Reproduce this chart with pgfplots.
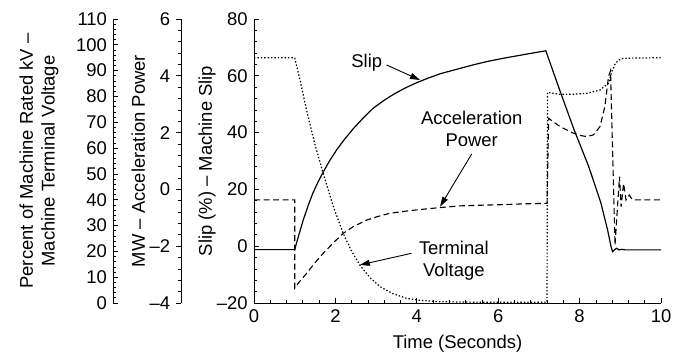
\documentclass[border=0pt]{standalone}
\usepackage{fontspec}
\setmainfont{Liberation Sans}
\usepackage{pgfplots}
\usepackage{pgfplotstable}
\pgfplotsset{compat=1.18}
\usetikzlibrary{arrows.meta}

\pgfplotstableread{
t s
0 -1.2
1.0 -1.2
1.1 3.9
1.21 9.2
1.33 14.3
1.45 18.8
1.58 22.8
1.70 26.1
1.85 29.9
2.03 33.9
2.2 37.2
2.44 41.4
2.7 45.4
2.93 48.6
3.2 51.4
3.42 53.4
3.7 55.6
4.0 57.6
4.3 59.3
4.57 60.7
5.06 62.6
5.4 63.9
5.72 65.0
6.1 66.1
6.45 67.0
6.8 67.9
7.17 68.8
7.52 54.6
7.87 40.8
8.22 28.2
8.52 15.4
8.69 5.6
8.77 0.0
8.81 -1.9
8.86 -1.2
8.91 -0.75
8.97 -1.3
9.04 -1.1
9.12 -1.3
10 -1.3
}\slipdata

\pgfplotstableread{
t p
0 -0.37
1.0 -0.37
1.0 -3.48
1.1 -3.28
1.29 -2.96
1.5 -2.58
1.70 -2.25
1.95 -1.88
2.19 -1.55
2.45 -1.30
2.77 -1.08
3.05 -0.95
3.34 -0.84
3.7 -0.77
4.0 -0.72
4.57 -0.64
5.06 -0.58
5.5 -0.56
6.04 -0.54
6.6 -0.51
7.2 -0.49
7.24 2.50
7.52 2.21
7.85 1.98
8.05 1.89
8.18 1.86
8.34 1.92
8.5 2.21
8.62 2.91
8.71 3.97
8.76 4.18
8.87 -1.96
8.98 0.45
9.02 -0.61
9.08 0.21
9.14 -0.37
9.22 -0.20
9.3 -0.37
10 -0.37
}\accdata

\pgfplotstableread{
t v
0 95.0
1.0 95.0
1.13 86.4
1.29 74.8
1.49 61.9
1.70 50.2
1.95 37.3
2.19 27.0
2.4 20.0
2.60 14.7
2.85 9.8
3.10 6.3
3.4 3.7
3.75 1.8
4.1 1.0
4.57 0.5
5.5 0.3
7.2 0.3
7.21 81.6
7.52 80.8
7.9 80.9
8.18 81.2
8.5 82.5
8.71 85.1
8.79 89.6
8.87 92.5
8.95 94.0
9.07 94.8
10 95.0
}\voltdata

\pgfplotsset{
  base/.style={
    scale only axis, width=407bp, height=284bp,
    xmin=0, xmax=10, anchor=south west,
    axis line style={-, line width=0.8bp},
    major tick length=5bp, minor tick length=3bp,
    tick style={black, line width=0.7bp},
  }
}

\begin{document}
\fontsize{18.5}{22}\selectfont
\begin{tikzpicture}
\path[use as bounding box] (-254bp,-51bp) rectangle (427bp,303bp);

% percent axis (drawn only)
\begin{axis}[base, at={(-140.7bp,0)}, ymin=0, ymax=110,
  hide x axis, axis y line*=left, tick align=inside,
  ytick={0,10,...,110}, minor y tick num=4,
  yticklabels={0,10,20,30,40,50,60,70,80,90,100,110},
  ylabel={Percent of Machine Rated kV –\\Machine Terminal Voltage},
  ylabel style={at={(axis description cs:-0.1826,0.5)}, anchor=center, align=center}]
\end{axis}

% MW axis (drawn only)
\begin{axis}[base, at={(-72.5bp,0)}, ymin=-4, ymax=6,
  hide x axis, axis y line*=left, tick align=outside,
  ytick={-4,-2,0,2,4,6}, minor y tick num=4,
  yticklabels={–4,–2,0,2,4,6},
  ylabel={MW – Acceleration Power},
  ylabel style={at={(axis description cs:-0.1061,0.5)}, anchor=center}]
\end{axis}

% terminal voltage plot
\begin{axis}[base, at={(0,0)}, ymin=0, ymax=110, hide axis]
\addplot[black, line width=1.2bp, dash pattern=on 1.4bp off 2bp] table[x=t,y=v] {\voltdata};
\end{axis}

% acceleration power plot
\begin{axis}[base, at={(0,0)}, ymin=-4, ymax=6, hide axis]
\addplot[black, line width=1.1bp, dash pattern=on 6bp off 3.5bp] table[x=t,y=p] {\accdata};
\end{axis}

% main slip axis
\begin{axis}[base, at={(0,0)}, ymin=-20, ymax=80,
  axis x line*=bottom, axis y line*=left, tick align=inside,
  xtick={0,2,4,6,8,10}, xticklabels={0,2,4,6,8,10}, minor x tick num=4,
  ytick={-20,0,20,40,60,80}, yticklabels={–20,0,20,40,60,80}, minor y tick num=4,
  xlabel={Time (Seconds)},
  xlabel style={at={(axis description cs:0.5,-0.1444)}, anchor=center},
  ylabel={Slip (\%) – Machine Slip},
  ylabel style={at={(axis description cs:-0.1155,0.5)}, anchor=center},
  clip=false]
\addplot[black, line width=1.2bp] table[x=t,y=s] {\slipdata};
\node at (axis cs:2.77,64.6) {Slip};
\draw[-{Triangle[length=10bp,width=6bp]}, line width=0.9bp] (axis cs:3.26,63.8) -- (axis cs:4.08,58.5);
\node[align=center] at (axis cs:5.35,41.3) {Acceleration\\Power};
\draw[-{Triangle[length=10bp,width=6bp]}, line width=0.9bp] (axis cs:5.35,32.5) -- (axis cs:4.57,13.9);
\node[align=center] at (axis cs:4.91,-5.2) {Terminal\\Voltage};
\draw[-{Triangle[length=10bp,width=6bp]}, line width=0.9bp] (axis cs:3.87,-2.5) -- (axis cs:2.60,-6.6);
\end{axis}
\end{tikzpicture}
\end{document}
